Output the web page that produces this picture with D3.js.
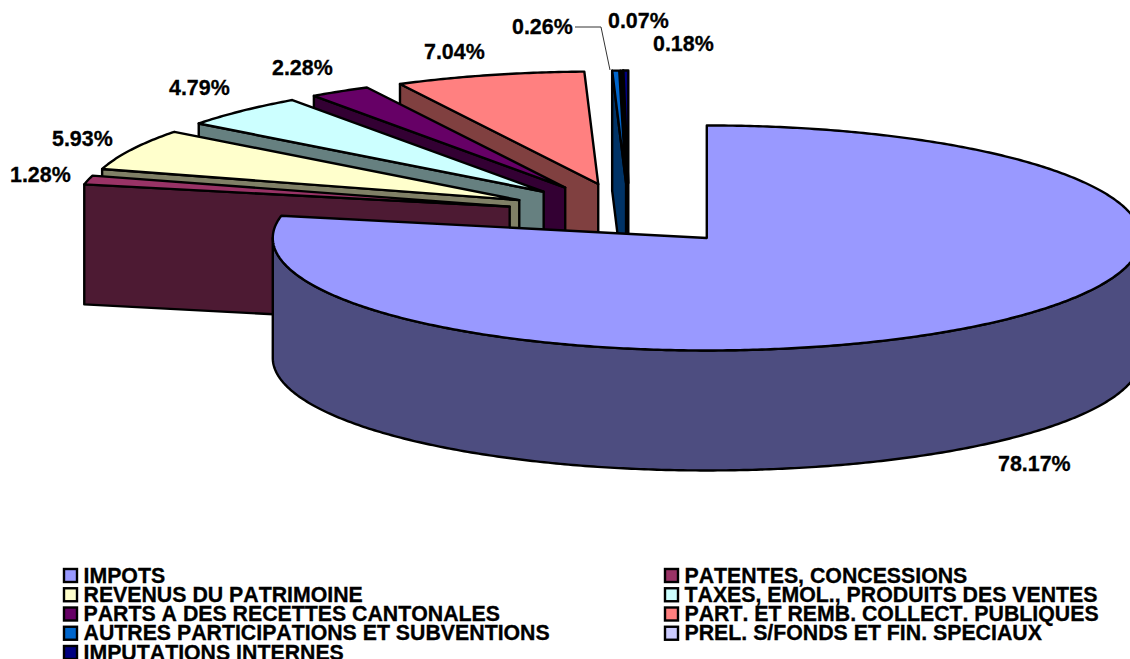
<!DOCTYPE html>
<html lang="fr">
<head>
<meta charset="UTF-8">
<title>Recettes par nature</title>
<style>
    html, body { margin: 0; padding: 0; background: #fff; overflow: hidden; }
    svg { display: block; }
    text { font-family: "Liberation Sans", Arial, sans-serif; font-weight: bold; fill: #000; stroke: #000; stroke-width: 0.3px; font-kerning: none; }
    .slice { stroke: #000; stroke-width: 2.4px; stroke-linejoin: round; }
</style>
</head>
<body>
<svg width="1130" height="659"></svg>
<script src="https://d3js.org/d3.v7.min.js"></script>
<script>
    const categories = ["IMPOTS", "PATENTES, CONCESSIONS", "REVENUS DU PATRIMOINE", "TAXES, EMOL., PRODUITS DES VENTES",
        "PARTS A DES RECETTES CANTONALES", "PART. ET REMB. COLLECT. PUBLIQUES", "AUTRES PARTICIPATIONS ET SUBVENTIONS",
        "PREL. S/FONDS ET FIN. SPECIAUX", "IMPUTATIONS INTERNES"];
    const values = [78.17, 1.28, 5.93, 4.79, 2.28, 7.04, 0.26, 0.07, 0.18];
    const colors = ["#9999ff", "#993366", "#ffffcc", "#ccffff", "#660066", "#ff8080", "#0066cc", "#ccccff", "#000080"];

    // where the percent labels sit (start x, baseline y)
    const labelPos = [[998, 471], [10, 182], [52, 146], [169, 95], [272, 75], [424, 59], [512, 34], [608, 28], [653, 51]];

    const cx = 629, cy = 214, rx = 434, ry = 112.5, depth = 120;
    const explodeX = 0.283, explodeY = 0.275;

    const svg = d3.select("svg");
    const x = d3.scaleLinear().domain([-1, 1]).range([cx - rx, cx + rx]);
    const y = d3.scaleLinear().domain([-1, 1]).range([cy + ry, cy - ry]);

    const pie = d3.pie().sort(null).value(d => d.value).startAngle(0).endAngle(2 * Math.PI);
    const arcs = pie(values.map((value, i) => ({ value, color: colors[i] })));

    const line = d3.line();

    // point on the ellipse of a slice, h = how far below the top face
    function pt(d, a, r, h) {
        const m = (d.startAngle + d.endAngle) / 2;
        return [
            x(r * Math.sin(a) + explodeX * Math.sin(m)),
            y(r * Math.cos(a) + explodeY * Math.cos(m)) + h
        ];
    }

    function rimAngles(a0, a1) {
        const n = Math.max(2, Math.ceil((a1 - a0) / 0.01));
        return d3.range(n + 1).map(i => a0 + (a1 - a0) * i / n);
    }

    function drawSlice(d) {
        const g = svg.append("g");
        const dark = d3.rgb(d.data.color);
        dark.r /= 2; dark.g /= 2; dark.b /= 2;

        // cut face at the start of the slice, seen only on the left half
        if (Math.sin(d.startAngle) < -1e-6) {
            g.append("path").attr("class", "slice").attr("fill", dark.formatHex())
                .attr("d", line([pt(d, 0, 0, 0), pt(d, d.startAngle, 1, 0), pt(d, d.startAngle, 1, depth), pt(d, 0, 0, depth)]) + "Z");
        }

        // outer wall, front half of the ellipse only
        const w0 = Math.max(d.startAngle, Math.PI / 2), w1 = Math.min(d.endAngle, 3 * Math.PI / 2);
        if (w1 > w0) {
            const rim = rimAngles(w0, w1);
            const pts = rim.map(a => pt(d, a, 1, 0)).concat(rim.slice().reverse().map(a => pt(d, a, 1, depth)));
            g.append("path").attr("class", "slice").attr("fill", dark.formatHex()).attr("d", line(pts) + "Z");
        }

        // top face
        const top = [pt(d, 0, 0, 0)].concat(rimAngles(d.startAngle, d.endAngle).map(a => pt(d, a, 1, 0)));
        g.append("path").attr("class", "slice").attr("fill", d.data.color).attr("d", line(top) + "Z");
    }

    // back slices first, the big one comes last
    arcs.slice().reverse().forEach(drawSlice);

    // leader line for 0.26%
    svg.append("polyline").attr("points", "575,27 601,27 610,70")
        .attr("fill", "none").attr("stroke", "#333").attr("stroke-width", 1);

    svg.selectAll(".pct").data(values).enter().append("text")
        .attr("class", "pct")
        .attr("x", (d, i) => labelPos[i][0])
        .attr("y", (d, i) => labelPos[i][1])
        .style("font-size", "21.4px")
        .text(d => d.toFixed(2) + "%");

    // legend, two columns
    const rowY = d3.scalePoint().domain(d3.range(5)).range([582.5, 659.5]);
    const colX = [64, 665];
    const item = svg.selectAll(".item").data(categories).enter().append("g")
        .attr("class", "item")
        .attr("transform", (d, i) => `translate(${colX[i % 2]},${rowY(Math.floor(i / 2))})`);
    item.append("rect").attr("x", 0).attr("y", -13.5).attr("width", 13).attr("height", 13)
        .attr("fill", (d, i) => colors[i]).attr("stroke", "#000").attr("stroke-width", 2.4);
    item.append("text").attr("x", 19.5).attr("y", 0).style("font-size", "21.3px").text(d => d);
</script>
</body>
</html>
